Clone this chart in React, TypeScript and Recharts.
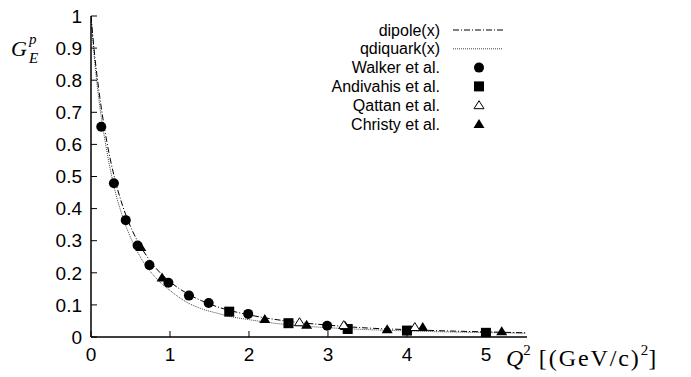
import React from 'react';
import { ComposedChart, Line, Scatter, XAxis, YAxis } from 'recharts';

const curveX = [0, 0.05, 0.1, 0.2, 0.3, 0.4, 0.5, 0.6, 0.7, 0.8, 0.9, 1.0, 1.2, 1.4, 1.6, 1.8, 2.0, 2.5, 3.0, 3.5, 4.0, 4.5, 5.0, 5.5];
const dipoleY = [1, 0.87, 0.768, 0.609, 0.494, 0.409, 0.344, 0.294, 0.254, 0.221, 0.194, 0.172, 0.138, 0.113, 0.094, 0.08, 0.069, 0.049, 0.037, 0.028, 0.023, 0.019, 0.016, 0.013];
const qdiquarkY = [1, 0.85, 0.74, 0.58, 0.46, 0.375, 0.31, 0.26, 0.22, 0.19, 0.165, 0.145, 0.11, 0.088, 0.074, 0.062, 0.054, 0.038, 0.029, 0.023, 0.019, 0.016, 0.014, 0.012];

const walkerQ2 = [0.13, 0.29, 0.44, 0.59, 0.74, 0.98, 1.24, 1.49, 1.99, 2.99];
const walkerG = [0.655, 0.479, 0.364, 0.285, 0.224, 0.169, 0.129, 0.106, 0.072, 0.035];
const andivahisQ2 = [1.75, 2.5, 3.25, 4.0, 5.0];
const andivahisG = [0.079, 0.043, 0.025, 0.02, 0.013];
const qattanQ2 = [2.64, 3.2, 4.1];
const qattanG = [0.046, 0.037, 0.031];
const christyQ2 = [0.63, 0.9, 2.2, 2.73, 3.22, 3.75, 4.2, 5.2];
const christyG = [0.28, 0.185, 0.056, 0.038, 0.034, 0.024, 0.031, 0.018];

const xTicks = [0, 1, 2, 3, 4, 5];
const yTicks = [0, 0.1, 0.2, 0.3, 0.4, 0.5, 0.6, 0.7, 0.8, 0.9, 1];
const legendLabels = ['dipole(x)', 'qdiquark(x)', 'Walker et al.', 'Andivahis et al.', 'Qattan et al.', 'Christy et al.'];

const zip = (xs: number[], ys: number[]) => xs.map((x, i) => ({ x, y: ys[i] }));
const dipoleData = zip(curveX, dipoleY);
const qdiquarkData = zip(curveX, qdiquarkY);
const walkerData = zip(walkerQ2, walkerG);
const andivahisData = zip(andivahisQ2, andivahisG);
const qattanData = zip(qattanQ2, qattanG);
const christyData = zip(christyQ2, christyG);

const FONT = '"Liberation Sans", Arial, sans-serif';
const SERIF = '"Liberation Serif", "DejaVu Serif", serif';

const Circle = (p: any) => <circle cx={p.cx} cy={p.cy} r={5} fill="#000" />;
const Square = (p: any) => <rect x={p.cx - 5} y={p.cy - 5} width={10} height={10} fill="#000" />;
const TriFilled = (p: any) => (
  <polygon points={`${p.cx},${p.cy - 5} ${p.cx - 5.5},${p.cy + 4} ${p.cx + 5.5},${p.cy + 4}`} fill="#000" />
);
const TriOpen = (p: any) => (
  <polygon points={`${p.cx},${p.cy - 4.5} ${p.cx - 5},${p.cy + 3.5} ${p.cx + 5},${p.cy + 3.5}`} fill="#fff" stroke="#000" strokeWidth={1} />
);

const fmt = (v: number) => String(v);

export default function App() {
  const legendY = [30, 48.8, 67.6, 86.4, 105.2, 124];
  return (
    <div style={{ position: 'absolute', left: 0, top: 0, width: 691, height: 377, background: '#fff' }}>
      <ComposedChart width={691} height={377} margin={{ top: 16, right: 164, bottom: 10, left: 0 }}>
        <XAxis
          xAxisId="b"
          type="number"
          dataKey="x"
          domain={[0, 5.52]}
          ticks={xTicks}
          allowDataOverflow
          height={30}
          tickSize={-6}
          tickMargin={17}
          tickFormatter={fmt}
          tick={{ fill: '#000', fontSize: 19, fontFamily: FONT }}
          axisLine={{ stroke: '#000', strokeWidth: 1.5 }}
          tickLine={{ stroke: '#000' }}
        />
        <XAxis
          xAxisId="t"
          orientation="top"
          type="number"
          dataKey="x"
          domain={[0, 5.52]}
          ticks={xTicks}
          allowDataOverflow
          height={0}
          tickSize={-6}
          tickFormatter={() => ''}
          axisLine={{ stroke: '#000', strokeWidth: 1.5 }}
          tickLine={{ stroke: '#000' }}
        />
        <YAxis
          yAxisId="l"
          type="number"
          domain={[0, 1]}
          ticks={yTicks}
          allowDataOverflow
          width={91}
          tickSize={-6}
          tickMargin={15}
          tickFormatter={fmt}
          tick={{ fill: '#000', fontSize: 19, fontFamily: FONT }}
          axisLine={{ stroke: '#000', strokeWidth: 1.5 }}
          tickLine={{ stroke: '#000' }}
        />
        <YAxis
          yAxisId="r"
          orientation="right"
          type="number"
          domain={[0, 1]}
          ticks={yTicks}
          allowDataOverflow
          width={0}
          tickSize={-6}
          tickFormatter={() => ''}
          axisLine={{ stroke: '#000', strokeWidth: 1.5 }}
          tickLine={{ stroke: '#000' }}
        />
        <Line xAxisId="b" yAxisId="l" data={qdiquarkData} dataKey="y" type="monotone" stroke="#444" strokeWidth={1} strokeDasharray="1 1" dot={false} isAnimationActive={false} />
        <Line xAxisId="b" yAxisId="l" data={dipoleData} dataKey="y" type="monotone" stroke="#000" strokeWidth={1} strokeDasharray="6 2 1 2" dot={false} isAnimationActive={false} />
        <Scatter xAxisId="b" yAxisId="l" data={walkerData} dataKey="y" shape={Circle} isAnimationActive={false} />
        <Scatter xAxisId="b" yAxisId="l" data={andivahisData} dataKey="y" shape={Square} isAnimationActive={false} />
        <Scatter xAxisId="b" yAxisId="l" data={christyData} dataKey="y" shape={TriFilled} isAnimationActive={false} />
        <Scatter xAxisId="b" yAxisId="l" data={qattanData} dataKey="y" shape={TriOpen} isAnimationActive={false} />
      </ComposedChart>
      <svg width={691} height={377} style={{ position: 'absolute', left: 0, top: 0, pointerEvents: 'none' }}>
        {legendLabels.map((t, i) => (
          <text key={t} x={440} y={legendY[i]} textAnchor="end" dominantBaseline="central" fontFamily={FONT} fontSize={16} fill="#000">{t}</text>
        ))}
        <line x1={453} x2={503} y1={legendY[0]} y2={legendY[0]} stroke="#000" strokeWidth={1} strokeDasharray="6 2 1 2" />
        <line x1={453} x2={503} y1={legendY[1]} y2={legendY[1]} stroke="#444" strokeWidth={1} strokeDasharray="1 1" />
        <Circle cx={479} cy={legendY[2]} />
        <Square cx={479} cy={legendY[3]} />
        <TriOpen cx={479} cy={legendY[4]} />
        <TriFilled cx={479} cy={legendY[5]} />
        <text x={11} y={56} fontFamily={SERIF} fontStyle="italic" fontSize={22} fill="#000">G</text>
        <text x={29} y={44} fontFamily={SERIF} fontStyle="italic" fontSize={15} fill="#000">p</text>
        <text x={29} y={63} fontFamily={SERIF} fontStyle="italic" fontSize={15} fill="#000">E</text>
        <text x={506} y={366} fontFamily={SERIF} fontSize={24} fill="#000">
          <tspan fontStyle="italic">Q</tspan>
          <tspan fontSize={15} dy={-11}>2</tspan>
          <tspan dy={11} dx={8} textLength={100} lengthAdjust="spacing">[(GeV/c)</tspan>
          <tspan fontSize={15} dy={-11}>2</tspan>
          <tspan dy={11}>]</tspan>
        </text>
      </svg>
    </div>
  );
}
